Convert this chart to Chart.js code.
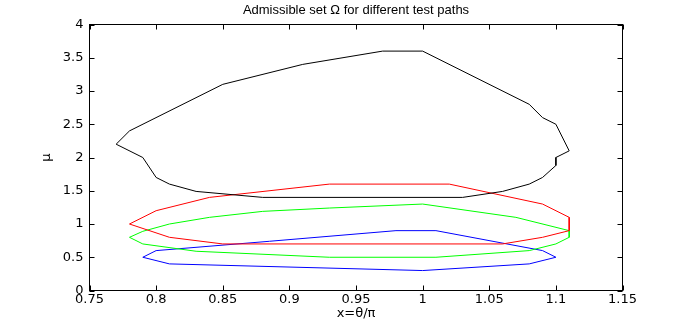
<!DOCTYPE html>
<html>
<head>
<meta charset="utf-8">
<script src="https://cdn.jsdelivr.net/npm/chart.js@4"></script>
<style>
  html, body { margin: 0; padding: 0; background: #fff; }
  #wrap { width: 687px; height: 327px; position: relative; }
</style>
</head>
<body>
<div id="wrap"><canvas id="c" width="687" height="327"></canvas></div>
<script>
// ---- data ----
const blackX = [0.77, 0.78, 0.85, 0.91, 0.97, 1.00, 1.08, 1.09, 1.10, 1.11, 1.10, 1.10, 1.09, 1.08, 1.06, 1.03, 0.88, 0.83, 0.81, 0.80, 0.79, 0.77];
const blackY = [2.2, 2.4, 3.1, 3.4, 3.6, 3.6, 2.8, 2.6, 2.5, 2.1, 2.0, 1.88, 1.7, 1.6, 1.49, 1.4, 1.4, 1.49, 1.6, 1.7, 2.0, 2.2];

const redX = [0.78, 0.80, 0.84, 0.93, 1.02, 1.09, 1.11, 1.11, 1.09, 1.06, 0.85, 0.81, 0.78];
const redY = [1.0, 1.2, 1.4, 1.6, 1.6, 1.3, 1.1, 0.9, 0.8, 0.7, 0.7, 0.8, 1.0];

const greenX = [0.78, 0.79, 0.81, 0.84, 0.88, 0.93, 1.00, 1.07, 1.11, 1.11, 1.10, 1.08, 1.01, 0.93, 0.83, 0.79, 0.78];
const greenY = [0.8, 0.89, 1.0, 1.1, 1.19, 1.24, 1.3, 1.1, 0.9, 0.8, 0.7, 0.6, 0.5, 0.5, 0.59, 0.7, 0.8];

const blueX = [0.79, 0.80, 0.885, 0.98, 1.01, 1.09, 1.10, 1.08, 1.00, 0.81, 0.79];
const blueY = [0.5, 0.6, 0.74, 0.9, 0.9, 0.6, 0.5, 0.4, 0.3, 0.4, 0.5];

const titleText = 'Admissible set \u03A9 for different test paths';
const xTitle = 'x=\u03B8/\u03C0';
const yTitle = '\u03BC';
const xMin = 0.75, xMax = 1.15, xStep = 0.05;
const yMin = 0, yMax = 4, yStep = 0.5;

const pts = (xs, ys) => xs.map((v, i) => ({ x: v, y: ys[i] }));
const TFONT = 'Liberation Sans, Arial, Helvetica, sans-serif';
const AFONT = 'DejaVu Sans, sans-serif';
const fmt = v => String(+Number(v).toFixed(2));

const boxPlugin = {
  id: 'boxTicks',
  afterDatasetsDraw(chart) {
    const { ctx, chartArea: { left, right, top, bottom }, scales: { x, y } } = chart;
    ctx.save();
    ctx.strokeStyle = '#000';
    ctx.lineWidth = 1;
    ctx.strokeRect(left, top, right - left, bottom - top);
    ctx.beginPath();
    const L = 5;
    x.ticks.forEach(t => {
      const p = Math.round(x.getPixelForValue(t.value)) + 0.5;
      ctx.moveTo(p, bottom); ctx.lineTo(p, bottom - L);
      ctx.moveTo(p, top); ctx.lineTo(p, top + L);
    });
    y.ticks.forEach(t => {
      const p = Math.round(y.getPixelForValue(t.value)) + 0.5;
      ctx.moveTo(left, p); ctx.lineTo(left + L, p);
      ctx.moveTo(right, p); ctx.lineTo(right - L, p);
    });
    ctx.stroke();
    // title centred over the plot area
    ctx.fillStyle = '#000';
    ctx.font = '13px ' + TFONT;
    ctx.textAlign = 'center';
    ctx.textBaseline = 'middle';
    ctx.fillText(titleText, (left + right) / 2, 10);
    ctx.restore();
  }
};

const mk = (label, xs, ys, color) => ({
  label, data: pts(xs, ys), borderColor: color, backgroundColor: color,
  borderWidth: 1, showLine: true, pointRadius: 0, tension: 0, fill: false
});

new Chart(document.getElementById('c'), {
  type: 'scatter',
  data: {
    datasets: [
      mk('black', blackX, blackY, '#000000'),
      mk('red', redX, redY, '#ff0000'),
      mk('green', greenX, greenY, '#00ff00'),
      mk('blue', blueX, blueY, '#0000ff')
    ]
  },
  options: {
    responsive: false,
    animation: false,
    devicePixelRatio: 1,
    layout: { padding: { left: 0, right: 64.5, top: 24.5, bottom: 0 } },
    plugins: {
      legend: { display: false },
      tooltip: { enabled: false },
      title: { display: false }
    },
    scales: {
      x: {
        type: 'linear', min: xMin, max: xMax,
        afterFit(s) { s.height = 36.5; },
        grid: { display: false, drawTicks: false },
        border: { display: true, color: '#000' },
        ticks: { stepSize: xStep, color: '#000', padding: 1, maxRotation: 0, autoSkip: false,
                 callback: fmt, font: { family: AFONT, size: 13 } },
        title: { display: true, text: xTitle, color: '#000', padding: { top: 0, bottom: 5.2 },
                 font: { family: AFONT, size: 13 } }
      },
      y: {
        type: 'linear', min: yMin, max: yMax,
        afterFit(s) { s.width = 89.5; },
        grid: { display: false, drawTicks: false },
        border: { display: true, color: '#000' },
        ticks: { stepSize: yStep, color: '#000', padding: 6, autoSkip: false,
                 callback: fmt, font: { family: AFONT, size: 13 } },
        title: { display: true, text: yTitle, color: '#000', padding: { top: 39.2, bottom: 0 },
                 font: { family: AFONT, size: 13 } }
      }
    }
  },
  plugins: [boxPlugin]
});
</script>
</body>
</html>
